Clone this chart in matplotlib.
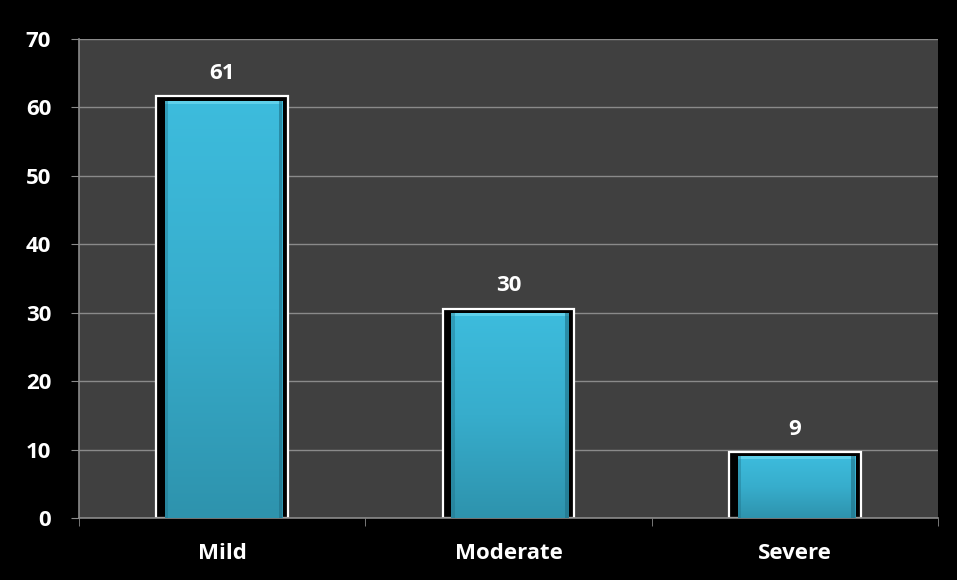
import matplotlib
matplotlib.use("Agg")
import matplotlib.pyplot as plt
import numpy as np
from matplotlib.patches import Rectangle

categories = ["Mild", "Moderate", "Severe"]
values = [61, 30, 9]
yticks = [0, 10, 20, 30, 40, 50, 60, 70]

plt.rcParams['font.family'] = ['Open Sans', 'DejaVu Sans']
plt.rcParams['font.weight'] = 'bold'
FS = 16

fig = plt.figure(figsize=9.57 * np.array([1, 580 / 957]), dpi=100)
fig.patch.set_facecolor("black")
ax = fig.add_axes([79 / 957, 1 - 518 / 580, (938 - 79) / 957, (518 - 39) / 580])
ax.set_facecolor("#404040")

x = np.arange(len(categories))
ax.set_xlim(-0.5, len(categories) - 0.5)
ax.set_ylim(0, 70)

# grid
ax.set_yticks(yticks)
ax.yaxis.grid(True, color="#8a8a8a", linewidth=1.0)
ax.set_axisbelow(True)

# outer bars (white outline, black face)
ax.bar(x, [v + 0.6 for v in values], width=0.46, color="black", edgecolor="white",
       linewidth=1.6, zorder=2)

# inner gradient bars
grad = np.linspace(0, 1, 256).reshape(-1, 1)
cmap = matplotlib.colors.LinearSegmentedColormap.from_list(
    "cy", ["#2e93ad", "#37adcc", "#3dbcdd"])
inner = ax.bar(x + 0.005, values, width=0.41, color="none", edgecolor="none", zorder=3)
for rect in inner:
    x0, w, h = rect.get_x(), rect.get_width(), rect.get_height()
    im = ax.imshow(grad, extent=[x0, x0 + w, 0, h], origin="lower", cmap=cmap,
                   aspect="auto", zorder=3)
    im.set_clip_path(rect)
    ax.add_patch(Rectangle((x0, h - 0.45), w, 0.45, facecolor="#5fd0ea",
                           edgecolor="none", zorder=4))
    ax.add_patch(Rectangle((x0 + w - w * 0.03, 0), w * 0.03, h, facecolor="#1f6f85",
                           edgecolor="none", alpha=0.6, zorder=4))
    ax.add_patch(Rectangle((x0, 0), w * 0.03, h, facecolor="#1f6f85",
                           edgecolor="none", alpha=0.4, zorder=4))
ax.set_xlim(-0.5, len(categories) - 0.5)
ax.set_ylim(0, 70)

for xi, v in zip(x, values):
    ax.text(xi, v + 4.0, str(v), ha="center", va="center", color="white",
            fontsize=FS, fontweight="bold", zorder=5)

# ticks
ax.set_xticks(x)
ax.set_xticklabels(categories, color="white", fontsize=FS, fontweight="bold")
ax.set_xticks(np.arange(-0.5, len(categories)), minor=True)
ax.tick_params(axis="x", which="major", length=0, pad=18)
ax.tick_params(axis="x", which="minor", length=6, color="#8a8a8a", direction="out")
ax.tick_params(axis="y", length=6, color="#8a8a8a", direction="out", pad=14,
               labelcolor="white", labelsize=FS)
for lab in ax.get_yticklabels():
    lab.set_fontweight("bold")

for s in ["top", "right"]:
    ax.spines[s].set_visible(False)
for s in ["left", "bottom"]:
    ax.spines[s].set_color("#8a8a8a")
    ax.spines[s].set_linewidth(1.2)

fig.savefig("out.png", dpi=100, facecolor="black")
